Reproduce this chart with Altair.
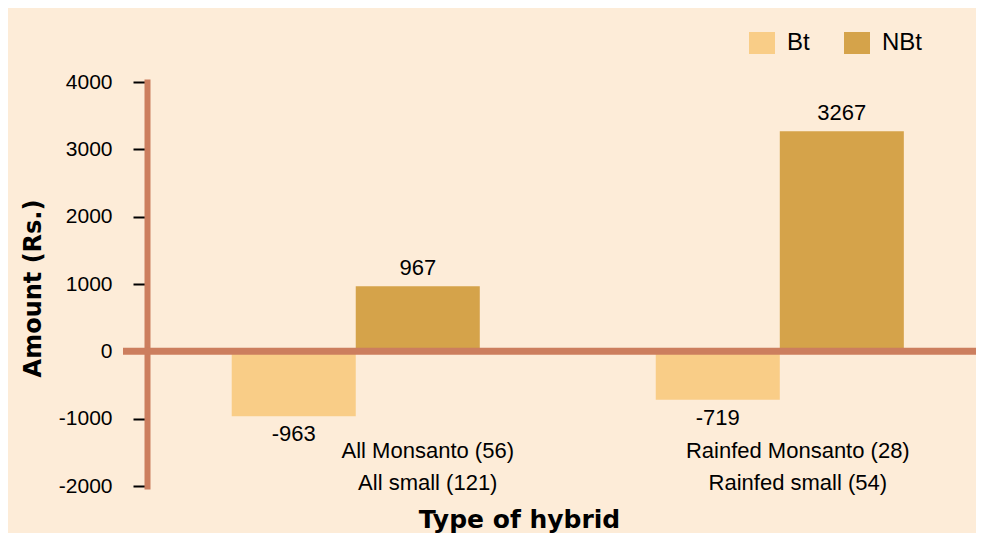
import altair as alt
import pandas as pd

categories = ["All", "Rainfed"]
label_line1 = ["All Monsanto (56)", "Rainfed Monsanto (28)"]
label_line2 = ["All small (121)", "Rainfed small (54)"]
series = ["Bt", "NBt"]
bt_values = [-963, -719]
nbt_values = [967, 3267]
y_ticks = [-2000, -1000, 0, 1000, 2000, 3000, 4000]

rows = []
for i, c in enumerate(categories):
    rows.append({"cat": c, "series": "Bt", "value": bt_values[i]})
    rows.append({"cat": c, "series": "NBt", "value": nbt_values[i]})
df = pd.DataFrame(rows)
labels_df = pd.DataFrame({"cat": categories, "l1": label_line1, "l2": label_line2})
zero_df = pd.DataFrame({"v": [0]})

W, H = 829, 404
BG = "#FDECD8"
BROWN = "#CC7E5E"
COLORS = ["#F9CD87", "#D5A34A"]
FONT = "Liberation Sans"

xscale = alt.Scale(domain=categories, paddingInner=0.415, paddingOuter=0.185, align=0.54)
x_enc = alt.X(
    "cat:N", scale=xscale, sort=categories,
    axis=alt.Axis(title="Type of hybrid", labels=False, ticks=False, domain=False,
                  titleX=372, titleY=33, titleFont="DejaVu Sans", titleFontSize=25,
                  titleFontWeight="bold", titleColor="black", titleBaseline="middle",
                  titleAlign="center"),
)
y_enc = alt.Y(
    "value:Q", scale=alt.Scale(domain=[-2000, 4000], nice=False, zero=False),
    axis=alt.Axis(values=y_ticks, title="Amount (Rs.)", grid=False,
                  labelExpr="datum.value + ''",
                  domainColor=BROWN, domainWidth=6, domainCap="square",
                  tickColor="black", tickSize=14, tickWidth=2,
                  labelFont=FONT, labelFontSize=21, labelColor="black", labelPadding=21,
                  labelFlush=False, labelBaseline="middle",
                  titleX=-114, titleY=206, titleAngle=270, titleFont="DejaVu Sans",
                  titleFontSize=24, titleFontWeight="bold", titleColor="black",
                  titleBaseline="middle", titleAlign="center"),
)

base = alt.Chart(df).transform_calculate(txt="datum.value + ''")

bars = base.mark_bar().encode(
    x=x_enc,
    y=y_enc,
    xOffset=alt.XOffset("series:N", sort=series,
                        scale=alt.Scale(domain=series, paddingInner=0, paddingOuter=0)),
    color=alt.Color("series:N", sort=series,
                    scale=alt.Scale(domain=series, range=COLORS),
                    legend=alt.Legend(orient="none", legendX=602, legendY=-52,
                                      direction="horizontal", title=None,
                                      symbolType="M-1,-0.846H1V0.846H-1Z",
                                      symbolSize=676, symbolStrokeWidth=0,
                                      labelFontSize=24, labelFont=FONT, labelColor="black",
                                      labelOffset=12, columnPadding=34, padding=0)),
)

pos_text = base.transform_filter("datum.value >= 0").mark_text(
    font=FONT, fontSize=22, color="black", baseline="alphabetic", dy=-11
).encode(
    x=alt.X("cat:N", scale=xscale, sort=categories),
    xOffset=alt.XOffset("series:N", sort=series),
    y="value:Q",
    text="txt:N",
)

neg_text = base.transform_filter("datum.value < 0").mark_text(
    font=FONT, fontSize=22, color="black", baseline="alphabetic", dy=25
).encode(
    x=alt.X("cat:N", scale=xscale, sort=categories),
    xOffset=alt.XOffset("series:N", sort=series),
    y="value:Q",
    text="txt:N",
)

zero_rule = alt.Chart(zero_df).mark_rule(color=BROWN, strokeWidth=7).encode(
    y="v:Q", x=alt.value(-24), x2=alt.value(W)
)

lab = alt.Chart(labels_df)
cat_layers = []
for c, dxv in zip(categories, [72, 18]):
    for field, yv in [("l1", 369), ("l2", 401)]:
        cat_layers.append(
            lab.transform_filter(alt.datum.cat == c).mark_text(
                font=FONT, fontSize=22, color="black", baseline="middle", dx=dxv
            ).encode(
                x=alt.X("cat:N", scale=xscale, sort=categories),
                y=alt.value(yv),
                text=f"{field}:N",
            )
        )

chart = alt.layer(bars, zero_rule, pos_text, neg_text, *cat_layers).properties(
    width=W, height=H,
    padding={"left": 139, "top": 74, "right": 0, "bottom": 47},
    autosize=alt.AutoSizeParams(type="none"),
    background=BG,
).configure_view(stroke=None)

chart.save("out.html", embed_options={"renderer": "svg", "actions": False})
